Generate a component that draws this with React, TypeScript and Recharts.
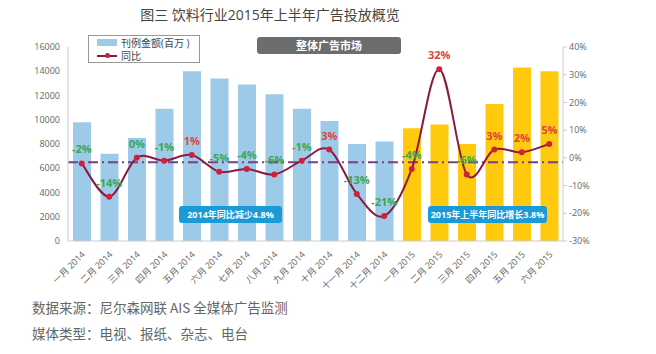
import { ComposedChart, Bar, Line, XAxis, YAxis, ReferenceLine, LabelList, Cell } from 'recharts'

const months = [
  '一月 2014', '二月 2014', '三月 2014', '四月 2014', '五月 2014', '六月 2014',
  '七月 2014', '八月 2014', '九月 2014', '十月 2014', '十一月 2014', '十二月 2014',
  '一月 2015', '二月 2015', '三月 2015', '四月 2015', '五月 2015', '六月 2015',
]
const spend = [9800, 7200, 8500, 10900, 14000, 13400, 12900, 12100, 10900, 9900, 8000, 8200, 9300, 9600, 8000, 11300, 14300, 14000]
const yoy = [-2, -14, 0, -1, 1, -5, -4, -6, -1, 3, -13, -21, -4, 32, -6, 3, 2, 5]
const leftTicks = [0, 2000, 4000, 6000, 8000, 10000, 12000, 14000, 16000]
const rightTicks = [-30, -20, -10, 0, 10, 20, 30, 40]

const data = months.map((m, i) => ({ month: m, spend: spend[i], yoy: yoy[i], year: m.endsWith('2015') ? 2015 : 2014 }))

const FONT = '"Open Sans", "Noto Sans CJK SC", sans-serif'

// excel-like smooth line (catmull-rom through the points)
const smooth = (context: any) => {
  let pts: number[][] = []
  return {
    areaStart() {},
    areaEnd() {},
    lineStart() { pts = [] },
    point(x: number, y: number) { pts.push([x, y]) },
    lineEnd() {
      if (!pts.length) return
      context.moveTo(pts[0][0], pts[0][1])
      for (let i = 0; i < pts.length - 1; i++) {
        const p0 = pts[i - 1] || pts[i]
        const p1 = pts[i]
        const p2 = pts[i + 1]
        const p3 = pts[i + 2] || p2
        const t = 1 / 6
        context.bezierCurveTo(
          p1[0] + (p2[0] - p0[0]) * t, p1[1] + (p2[1] - p0[1]) * t,
          p2[0] - (p3[0] - p1[0]) * t, p2[1] - (p3[1] - p1[1]) * t,
          p2[0], p2[1],
        )
      }
    },
  }
}

const XTick = ({ x, y, payload }: any) => (
  <text x={x + 4} y={y + 6} transform={`rotate(-45 ${x + 4} ${y + 6})`} textAnchor="end" fontSize={9} fill="#666" fontFamily={FONT}>
    {payload.value}
  </text>
)

const PctLabel = ({ x, y, value }: any) => (
  <text x={x} y={y - 10} textAnchor="middle" fontSize={11} fontWeight="bold" fontFamily={FONT} fill={value > 0 ? '#e0443a' : '#3aa655'}>
    {`${value}%`}
  </text>
)

const box = (left: number, top: number, w: number, bg: string, text: string, size = 10) => (
  <div style={{ position: 'absolute', left, top, width: w, height: 17, background: bg, color: '#fff', borderRadius: 3, fontSize: size, fontWeight: 'bold', fontFamily: FONT, textAlign: 'center', lineHeight: '17px' }}>{text}</div>
)

export default function App() {
  return (
    <div style={{ position: 'absolute', left: 0, top: 0, width: 656, height: 354, background: '#fff', overflow: 'hidden' }}>
      <div style={{ position: 'absolute', left: 0, top: 4, width: 540, textAlign: 'center', fontSize: 14, color: '#444', fontFamily: FONT }}>
        图三 饮料行业2015年上半年广告投放概览
      </div>
      <ComposedChart width={656} height={354} data={data} margin={{ top: 47, right: 0, bottom: 0, left: 0 }} barCategoryGap={9}>
        <XAxis dataKey="month" interval={0} height={113} tick={<XTick />} axisLine={{ stroke: '#ccc' }} tickLine={false} />
        <YAxis yAxisId="l" width={68} domain={[0, 16000]} ticks={leftTicks} tick={{ fontSize: 9, fill: '#666', fontFamily: FONT }} axisLine={{ stroke: '#ccc' }} tickLine={false} />
        <YAxis yAxisId="r" orientation="right" width={93} domain={[-30, 40]} ticks={rightTicks} tickFormatter={(v: number) => `${v}%`} tick={{ fontSize: 9, fill: '#666', fontFamily: FONT }} axisLine={{ stroke: '#ccc' }} tickLine={{ stroke: '#ccc' }} tickSize={4} />
        <Bar yAxisId="l" dataKey="spend" isAnimationActive={false} barSize={18}>
          {data.map((d, i) => (
            <Cell key={i} fill={d.year === 2015 ? '#ffc90e' : '#9ecae9'} />
          ))}
        </Bar>
        <ReferenceLine yAxisId="l" y={6500} stroke="#7b3f84" strokeWidth={2} strokeDasharray="10 4 2 4" />
        <Line yAxisId="r" dataKey="yoy" type={smooth as any} stroke="#8b1a3f" strokeWidth={2} dot={{ r: 2, fill: '#d0213c', stroke: '#d0213c' }} isAnimationActive={false}>
          <LabelList dataKey="yoy" content={<PctLabel />} />
        </Line>
      </ComposedChart>
      <div style={{ position: 'absolute', left: 88, top: 35, width: 110, height: 26, border: '1px solid #999', background: '#fff', fontFamily: FONT, fontSize: 10, color: '#444' }}>
        <div style={{ display: 'flex', alignItems: 'center', height: 13 }}>
          <span style={{ display: 'inline-block', width: 20, height: 7, background: '#9ecae9', margin: '0 4px 0 8px' }} />刊例金额(百万 )
        </div>
        <div style={{ display: 'flex', alignItems: 'center', height: 13 }}>
          <span style={{ position: 'relative', display: 'inline-block', width: 20, height: 2, background: '#8b1a3f', margin: '0 4px 0 8px' }}>
            <span style={{ position: 'absolute', left: 8, top: -1.5, width: 5, height: 5, borderRadius: 3, background: '#d0213c' }} />
          </span>同比
        </div>
      </div>
      {box(257, 37, 144, '#6d6d6d', '整体广告市场', 11)}
      {box(179, 206, 103, '#1a9ad6', '2014年同比减少4.8%', 9)}
      {box(428, 206, 119, '#1a9ad6', '2015年上半年同比增长3.8%', 9)}
      <div style={{ position: 'absolute', left: 32, top: 297, fontSize: 13.5, color: '#666', fontFamily: '"Noto Sans CJK SC", serif' }}>
        数据来源：尼尔森网联 AIS 全媒体广告监测
      </div>
      <div style={{ position: 'absolute', left: 32, top: 323, fontSize: 13.5, color: '#666', fontFamily: '"Noto Sans CJK SC", serif' }}>
        媒体类型：电视、报纸、杂志、电台
      </div>
    </div>
  )
}
